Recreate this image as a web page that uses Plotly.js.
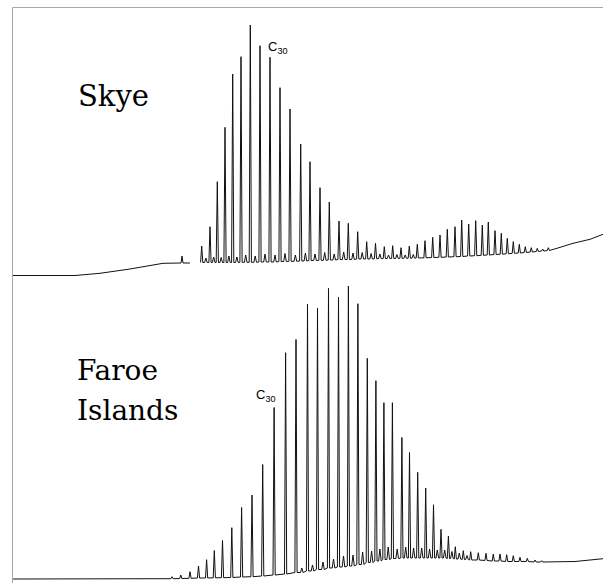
<!DOCTYPE html>
<html>
<head>
<meta charset="utf-8">
<script src="https://cdn.plot.ly/plotly-3.0.1.min.js"></script>
<style>html,body{margin:0;padding:0;background:#fff;}#chart{width:603px;height:583px;}</style>
</head>
<body>
<div id="chart"></div>
<script>
// ---------- Skye chromatogram (retention position, detector signal) ----------
const skyePreRT  = [13, 75, 100, 130, 163, 181, 182, 183, 190];
const skyePreSig = [14.5, 14.5, 16.7, 21, 26.7, 27, 34, 27, 27];

const skyeRT = [201.7, 210, 217.3, 225, 232.7, 241, 250.3, 260, 270, 280, 290, 300.7, 310, 320, 329.3, 339, 348.3, 357.7, 366.7, 375.5,
  384.3, 392.7, 401, 409.3, 417.3, 425, 432.7, 440, 447.3, 455, 461.7, 468.7, 475.7, 482.3, 488.3, 495, 501.3, 507.3, 513.3, 519.3,
  525.3, 531.3, 537.3, 542.7, 548.3];
const skyeApex = [44, 63.3, 108.3, 162.7, 216, 233.3, 265, 244.3, 232.7, 202.3, 181, 146, 128.3, 102.3, 88, 69, 66.7, 58.3, 48.3, 46.7,
  43.3, 44.3, 42.3, 44, 45.7, 49.3, 52.7, 55, 60.7, 63.3, 70, 66, 69.3, 65, 68, 59.3, 56.7, 51.7, 48.3, 45.7,
  43.3, 42.3, 41.7, 41, 42.3];
const skyeFoot = [27.5, 27.5, 27.5, 27.5, 27.5, 27.7, 27.7, 28, 28, 28.5, 28.7, 29, 29.5, 29.7, 30, 30.5, 30.5, 31, 31, 31.3,
  31.5, 31.5, 31.7, 31.8, 32, 32.2, 32.5, 32.7, 33, 33.3, 33.5, 34, 34.3, 34.7, 35, 35.5, 35.8, 36.2, 36.7, 37,
  37.5, 38, 38.5, 39, 39.5];
const skyeMinorRT  = [205.9, 213.7, 221.2, 228.9, 236.9, 245.7, 255.2, 265, 275, 285, 295.4, 305.4, 315, 324.7, 334.2, 343.7, 353, 362.2, 371.1, 379.9, 388.5, 396.9, 405.2, 413.3];
const skyeMinorSig = [32, 33, 32.5, 34, 33, 35, 34, 36, 35, 36.5, 35, 37, 36, 37.5, 36, 38, 37, 37.5, 36.5, 36, 35, 35.5, 35, 35.5];
const skyePostRT  = [552, 557, 573, 590, 603];
const skyePostSig = [40, 41.7, 46.7, 50.7, 55.7];

// ---------- Faroe Islands chromatogram ----------
const faroePreRT  = [13, 60, 120, 160, 167];
const faroePreSig = [4, 4, 4, 4, 4.2];

const faroeRT = [172, 180.8, 190, 198.5, 206.6, 214.3, 222.5, 231.8, 241.6, 252, 262.7, 274.1, 285.6, 296, 307.5, 317.5, 328.5, 338.5, 348.4, 357.9,
  367.3, 375.9, 383.9, 392.4, 401.9, 409.5, 417.7, 425.7, 433.5, 441, 448.4, 455.3, 463.3, 470.7, 478.3, 486, 493.3, 500, 506.7, 513.3,
  520, 527.3, 535, 541.7, 548.3];
const faroeApex = [6.3, 8, 11.3, 17, 23.3, 32.5, 42.5, 55.3, 75.5, 88, 118.5, 175.5, 230.3, 243.5, 279, 274.7, 294.7, 285.7, 297, 279.3,
  224.7, 202.3, 180.3, 180.3, 145.5, 130.5, 110.7, 95, 78.2, 53.7, 46.8, 36.3, 32.3, 31.3, 30.3, 29.7, 29, 29, 28.3, 27.3,
  25.7, 24.7, 23, 22.3, 21.7];
const faroeFoot = [4.3, 4.5, 4.7, 5, 5, 5.2, 5.3, 5.5, 6, 6.3, 7, 8, 9, 10.5, 12, 13.5, 15, 16, 17, 18.5,
  20.5, 22, 23.5, 24.5, 25, 25, 25, 25, 25, 25, 24.5, 24, 23.5, 23, 23, 22.5, 22, 22, 21.5, 21.5,
  21.5, 21.5, 21, 21, 21];
const faroeMinorRT  = [301.8, 312.5, 323, 333.5, 343.5, 353, 362.6, 371.6, 379.9, 388.2, 397.2, 405.7, 413.6, 421.7, 429.6, 437.3, 444.7, 451.9, 459.3, 467];
const faroeMinorSig = [15, 18, 21, 24, 27, 28, 31, 32, 34, 36, 34, 36, 35, 35, 34, 33, 33, 31.5, 30, 27.5];
const faroePostRT  = [556, 575, 590, 603];
const faroePostSig = [21, 21.5, 23, 24.3];

// ---------- labels ----------
const sampleLabels = ["Skye", "Faroe", "Islands"];
const peakLabel = "C<sub>30</sub>";

// build a chromatogram line from baseline pieces, peaks and minor spikes
function buildLine(preX, preY, rt, apex, foot, minX, minY, postX, postY, gap) {
  const pts = [];
  const half = 1.1;
  rt.forEach((x, i) => {
    pts.push([x - half, foot[i]], [x, apex[i]], [x + half, foot[i]]);
  });
  minX.forEach((x, i) => {
    let k = 0;
    for (let j = 0; j < rt.length; j++) if (rt[j] < x) k = j;
    const f = foot[k];
    pts.push([x - 1.3, f], [x, minY[i]], [x + 1.3, f]);
  });
  postX.forEach((x, i) => pts.push([x, postY[i]]));
  pts.sort((a, b) => a[0] - b[0]);
  const xs = preX.slice(), ys = preY.slice();
  if (gap) { xs.push(null); ys.push(null); }
  pts.forEach(p => { xs.push(p[0]); ys.push(p[1]); });
  return {xs, ys};
}

const sk = buildLine(skyePreRT, skyePreSig, skyeRT, skyeApex, skyeFoot, skyeMinorRT, skyeMinorSig, skyePostRT, skyePostSig, true);
const fa = buildLine(faroePreRT, faroePreSig, faroeRT, faroeApex, faroeFoot, faroeMinorRT, faroeMinorSig, faroePostRT, faroePostSig, false);

const W = 603, H = 583;
const px = v => v / W;
const py = v => 1 - v / H;

const traces = [
  {x: sk.xs, y: sk.ys, type: 'scatter', mode: 'lines', line: {color: '#111', width: 1}, yaxis: 'y', connectgaps: false, hoverinfo: 'skip'},
  {x: fa.xs, y: fa.ys, type: 'scatter', mode: 'lines', line: {color: '#111', width: 1}, yaxis: 'y2', hoverinfo: 'skip'}
];

const serif = 'DejaVu Serif';
const sans = 'Liberation Sans';

const layout = {
  width: W, height: H,
  margin: {l: 0, r: 0, t: 0, b: 0},
  paper_bgcolor: '#fff', plot_bgcolor: '#fff',
  showlegend: false,
  font: {family: sans},
  xaxis: {range: [0, W], visible: false, fixedrange: true},
  yaxis: {range: [290 - H, 290], visible: false, fixedrange: true},
  yaxis2: {range: [0, H], visible: false, overlaying: 'y', fixedrange: true},
  shapes: [
    {type: 'line', xref: 'paper', yref: 'paper', x0: px(12.5), x1: 1, y0: py(7.5), y1: py(7.5), line: {color: '#a8a8a8', width: 1}},
    {type: 'line', xref: 'paper', yref: 'paper', x0: px(12.5), x1: px(12.5), y0: py(7.5), y1: 0, line: {color: '#a8a8a8', width: 1}}
  ],
  annotations: [
    {text: sampleLabels[0], xref: 'paper', yref: 'paper', x: px(77), y: py(95.5), xanchor: 'left', yanchor: 'middle', showarrow: false, borderpad: 0, font: {family: serif, size: 29, color: '#000'}},
    {text: sampleLabels[1], xref: 'paper', yref: 'paper', x: px(76), y: py(370.7), xanchor: 'left', yanchor: 'middle', showarrow: false, borderpad: 0, font: {family: serif, size: 28, color: '#000'}},
    {text: sampleLabels[2], xref: 'paper', yref: 'paper', x: px(76), y: py(410.9), xanchor: 'left', yanchor: 'middle', showarrow: false, borderpad: 0, font: {family: serif, size: 28, color: '#000'}},
    {text: peakLabel, xref: 'paper', yref: 'paper', x: px(267), y: py(48), xanchor: 'left', yanchor: 'middle', showarrow: false, borderpad: 0, font: {family: sans, size: 13, color: '#000'}},
    {text: peakLabel, xref: 'paper', yref: 'paper', x: px(254.5), y: py(395.5), xanchor: 'left', yanchor: 'middle', showarrow: false, borderpad: 0, font: {family: sans, size: 13, color: '#000'}}
  ]
};

Plotly.newPlot('chart', traces, layout, {staticPlot: true, displayModeBar: false});
</script>
</body>
</html>
